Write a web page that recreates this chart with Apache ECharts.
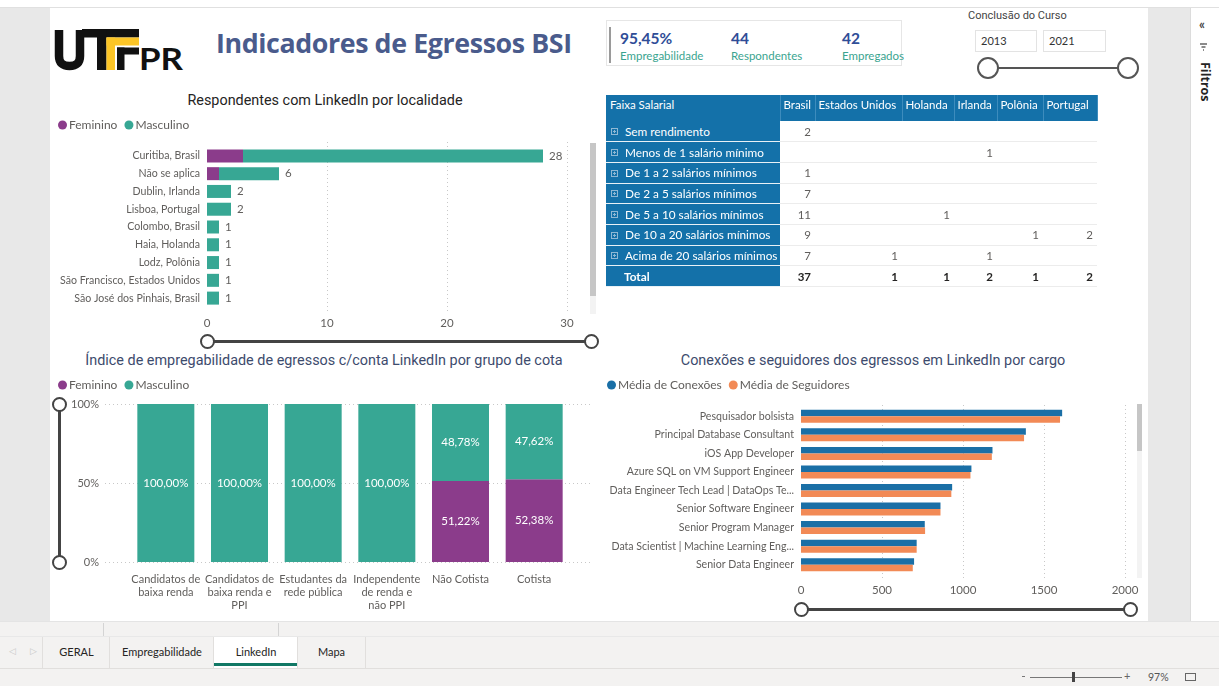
<!DOCTYPE html>
<html><head><meta charset="utf-8">
<script src="https://cdn.jsdelivr.net/npm/echarts@6/dist/echarts.min.js"></script>
<style>
body{margin:0;width:1219px;height:686px;overflow:hidden;background:#e8e8e8;font-family:Lato,'Noto Sans',sans-serif;position:relative}
.a{position:absolute}
.ttl{position:absolute;width:700px;text-align:center;font-family:Roboto,sans-serif;font-size:14.4px;white-space:nowrap}
.tab{position:absolute;top:637px;height:31px;line-height:30px;text-align:center;font-size:11px;color:#252423;border-left:1px solid #e1dfdd;box-sizing:border-box}
.knob{position:absolute;background:#fff;border:2px solid #444;border-radius:50%;box-sizing:border-box}
#tbl{position:absolute;left:606px;top:95px;border-collapse:collapse;font-family:Lato,sans-serif;z-index:3;table-layout:fixed;width:491px}
#tbl td,#tbl th{padding:0 4px;white-space:nowrap;box-sizing:border-box;overflow:hidden}
#tbl th{background:#1471a9;color:#fff;font-weight:normal;font-size:11.5px;height:26px;vertical-align:top;padding-top:3px;text-align:left;border-right:1px solid #3d8cbd}
#tbl td.rh{background:#1471a9;color:#fff;font-size:11.8px;border-bottom:1px solid #e9f1f6}
#tbl td.v{text-align:right;color:#605e5c;font-size:11.5px;border-bottom:1px solid #ececec;background:#fff}
#tbl tr{height:20.7px}
#tbl tr.tot td{font-weight:bold;color:#252423}
#tbl tr.tot td.rh{color:#fff;padding-left:18px}
.ex{display:inline-block;width:7px;height:7px;border:1px solid #8fb8d4;margin:0 7px 0 1px;vertical-align:middle;position:relative;top:-1px;box-sizing:border-box}
.ex:after{content:'';position:absolute;left:1px;top:2px;width:3px;height:1px;background:#8fb8d4}
.ex:before{content:'';position:absolute;left:2px;top:1px;width:1px;height:3px;background:#8fb8d4}
</style></head><body>
<div class="a" style="left:0;top:0;width:1219px;height:7px;background:#fff;border-bottom:1px solid #e0e0e0"></div>
<div class="a" style="left:50px;top:8px;width:1098px;height:613px;background:#fff"></div>
<div class="a" style="left:1190px;top:8px;width:29px;height:613px;background:#fff;border-left:1px solid #dcdcdc"></div>
<div class="a" style="left:1199px;top:16px;font-size:13px;color:#444;font-weight:bold">«</div>
<svg class="a" style="left:1199px;top:42px" width="10" height="10"><path d="M1 2h7M2.5 5h4M4 8h1" stroke="#666" stroke-width="1.3"/></svg>
<div class="a" style="left:1197px;top:62px;writing-mode:vertical-rl;font-size:12.5px;font-weight:bold;color:#252423;font-family:'Open Sans',sans-serif">Filtros</div>

<!-- logo -->
<svg class="a" style="left:52px;top:26px" width="136" height="48">
<path d="M7 4 V30 Q7 40 17.5 40 Q28 40 28 30 V4" fill="none" stroke="#111" stroke-width="8.5"/>
<rect x="30" y="3" width="57" height="8.5" fill="#111"/>
<rect x="45" y="3" width="9.5" height="41" fill="#111"/>
<rect x="54.5" y="11.5" width="8.5" height="32.5" fill="#fcc526"/>
<rect x="54.5" y="11.5" width="32.5" height="8" fill="#fcc526"/>
<rect x="65" y="21.5" width="7.5" height="22.5" fill="#111"/>
<rect x="65" y="21.5" width="22" height="7" fill="#111"/>
<text x="87" y="44" font-family="Lato,sans-serif" font-weight="bold" font-size="31" fill="#111" textLength="44" lengthAdjust="spacingAndGlyphs">PR</text>
</svg>
<div class="a" style="left:216px;top:24px;font-size:26.8px;font-weight:bold;color:#4a5b8c;font-family:'Open Sans',sans-serif;letter-spacing:-0.4px;white-space:nowrap">Indicadores de Egressos BSI</div>

<!-- KPI -->
<div class="a" style="left:606px;top:20px;width:296px;height:46px;border:1px solid #e6e6e6;box-sizing:border-box"></div>
<div class="a" style="left:609px;top:27px;width:2px;height:36px;background:#9a9a9a"></div>
<div id="kpi"></div>

<!-- slicer -->
<div class="a" style="left:968px;top:9px;font-family:Roboto,sans-serif;font-size:11px;color:#444">Conclusão do Curso</div>
<div class="a" style="left:975px;top:30px;width:62px;height:22px;border:1px solid #e3e3e3;box-sizing:border-box;font-size:11px;line-height:20px;padding-left:5px;color:#333">2013</div>
<div class="a" style="left:1043px;top:30px;width:63px;height:22px;border:1px solid #e3e3e3;box-sizing:border-box;font-size:11px;line-height:20px;padding-left:5px;color:#333">2021</div>
<div class="a" style="left:988px;top:67px;width:140px;height:2px;background:#555"></div>
<div class="knob" style="left:977px;top:57px;width:22px;height:22px;border-color:#555"></div>
<div class="knob" style="left:1117px;top:57px;width:22px;height:22px;border-color:#555"></div>

<!-- titles -->
<div class="ttl" style="left:-25px;top:92px;color:#252423">Respondentes com LinkedIn por localidade</div>
<div class="ttl" style="left:-26px;top:352px;color:#3d4b6d">Índice de empregabilidade de egressos c/conta LinkedIn por grupo de cota</div>
<div class="ttl" style="left:523px;top:352px;color:#3d4b6d">Conexões e seguidores dos egressos em LinkedIn por cargo</div>

<!-- scrollbars -->
<div class="a" style="left:590px;top:143px;width:6px;height:171px;background:#f3f3f3"></div>
<div class="a" style="left:590px;top:143px;width:6px;height:153px;background:#c6c6c6"></div>
<div class="a" style="left:1137px;top:404px;width:5px;height:174px;background:#f3f3f3"></div>
<div class="a" style="left:1137px;top:404px;width:5px;height:47px;background:#c6c6c6"></div>

<!-- sliders -->
<div class="a" style="left:207px;top:340px;width:384px;height:3px;background:#444"></div>
<div class="knob" style="left:200px;top:334px;width:15px;height:15px"></div>
<div class="knob" style="left:584px;top:334px;width:15px;height:15px"></div>
<div class="a" style="left:58px;top:404px;width:3px;height:158px;background:#444"></div>
<div class="knob" style="left:52px;top:397px;width:15px;height:15px"></div>
<div class="knob" style="left:52px;top:555px;width:15px;height:15px"></div>
<div class="a" style="left:801px;top:608px;width:330px;height:3px;background:#444"></div>
<div class="knob" style="left:794px;top:602px;width:15px;height:15px"></div>
<div class="knob" style="left:1123px;top:602px;width:15px;height:15px"></div>

<!-- tab bar -->
<div class="a" style="left:0;top:621px;width:1219px;height:47px;background:#f3f2f1;border-top:1px solid #e4e4e4"></div>
<div class="a" style="left:103px;top:623px;width:1px;height:13px;background:#d4d4d4"></div>
<div class="a" style="left:278px;top:623px;width:1px;height:13px;background:#d4d4d4"></div>
<div class="a" style="left:0;top:636px;width:1219px;height:1px;background:#e8e8e8"></div>
<div class="a" style="left:9px;top:645px;font-size:9px;color:#c8c8c8">&#9665;</div>
<div class="a" style="left:30px;top:645px;font-size:9px;color:#c8c8c8">&#9655;</div>
<div id="tabs"></div>
<div class="a" style="left:0;top:668px;width:1219px;height:18px;background:#f3f2f1;border-top:1px solid #e1dfdd"></div>
<div class="a" style="left:1022px;top:676px;width:3px;height:1px;background:#777"></div>
<div class="a" style="left:1030px;top:677px;width:92px;height:1px;background:#777"></div>
<div class="a" style="left:1072px;top:672px;width:3px;height:10px;background:#444"></div>
<div class="a" style="left:1124px;top:669px;font-size:11px;color:#666">+</div>
<div class="a" style="left:1148px;top:671px;font-size:10.5px;color:#555">97%</div>
<div class="a" style="left:1185px;top:673px;width:11px;height:8px;border:1px solid #666;box-sizing:border-box"></div>

<div id="c" class="a" style="left:0;top:0;width:1219px;height:686px;z-index:2;pointer-events:none"></div>
<table id="tbl"></table>

<script>
// ---------- data ----------
const locCategories = ['Curitiba, Brasil','Não se aplica','Dublin, Irlanda','Lisboa, Portugal','Colombo, Brasil','Haia, Holanda','Lodz, Polônia','São Francisco, Estados Unidos','São José dos Pinhais, Brasil'];
const locFeminino  = [3, 1, 0, 0, 0, 0, 0, 0, 0];
const locMasculino = [25, 5, 2, 2, 1, 1, 1, 1, 1];
const locTicks = [0, 10, 20, 30];

const cotaCategories = ['Candidatos de\nbaixa renda','Candidatos de\nbaixa renda e\nPPI','Estudantes da\nrede pública','Independente\nde renda e\nnão PPI','Não Cotista','Cotista'];
const cotaFeminino  = [0, 0, 0, 0, 51.22, 52.38];
const cotaMasculino = [100, 100, 100, 100, 48.78, 47.62];
const cotaTicks = ['0%', '50%', '100%'];

const cargoCategories = ['Pesquisador bolsista','Principal Database Consultant','iOS App Developer','Azure SQL on VM Support Engineer','Data Engineer Tech Lead | DataOps Te...','Senior Software Engineer','Senior Program Manager','Data Scientist | Machine Learning Eng...','Senior Data Engineer'];
const mediaConexoes   = [1612, 1388, 1182, 1052, 933, 861, 764, 714, 698];
const mediaSeguidores = [1599, 1377, 1178, 1046, 928, 861, 766, 714, 690];
const cargoTicks = [0, 500, 1000, 1500, 2000];

const faixaSalarial = ['Sem rendimento','Menos de 1 salário mínimo','De 1 a 2 salários mínimos','De 2 a 5 salários mínimos','De 5 a 10 salários mínimos','De 10 a 20 salários mínimos','Acima de 20 salários mínimos'];
const paises = ['Brasil','Estados Unidos','Holanda','Irlanda','Polônia','Portugal'];
const salarioPorPais = [
  [2, null, null, null, null, null],
  [null, null, null, 1, null, null],
  [1, null, null, null, null, null],
  [7, null, null, null, null, null],
  [11, null, 1, null, null, null],
  [9, null, null, null, 1, 2],
  [7, 1, null, 1, null, null]
];

const kpiValues = ['95,45%', '44', '42'];
const kpiLabels = ['Empregabilidade', 'Respondentes', 'Empregados'];
const tabNames = ['GERAL', 'Empregabilidade', 'LinkedIn', 'Mapa'];

// ---------- KPI & tabs ----------
const kpiX = [620, 731, 842];
document.getElementById('kpi').innerHTML = kpiValues.map((v,i)=>
  `<div class="a" style="left:${kpiX[i]}px;top:29px;font-size:15.5px;font-weight:bold;color:#2f4d97">${v}</div>`+
  `<div class="a" style="left:${kpiX[i]}px;top:48.5px;font-size:11.5px;color:#3aa48f">${kpiLabels[i]}</div>`).join('');
const tabX = [42, 109, 213, 297, 365];
document.getElementById('tabs').innerHTML = tabNames.map((t,i)=>{
  const act = t==='LinkedIn';
  return `<div class="tab" style="left:${tabX[i]}px;width:${tabX[i+1]-tabX[i]+1}px;${act?'background:#fff;':''}${i===tabNames.length-1?'border-right:1px solid #e1dfdd;':''}">${t}${act?'<div class="a" style="left:0;bottom:2px;width:100%;height:3px;background:#117865"></div>':''}</div>`;
}).join('');

// ---------- table ----------
const colW = [174, 35, 87, 52, 43, 46, 54];
let html = '<colgroup>' + colW.map(w=>`<col style="width:${w}px">`).join('') + '</colgroup>';
html += '<tr>' + ['Faixa Salarial'].concat(paises).map((h,i)=>`<th style="${i>0?'padding:3px 2px 0 3px;':''}">${h}</th>`).join('') + '</tr>';
faixaSalarial.forEach((f,r)=>{
  html += `<tr><td class="rh"><span class="ex"></span>${f}</td>` + salarioPorPais[r].map(v=>`<td class="v">${v==null?'':v}</td>`).join('') + '</tr>';
});
const totals = paises.map((p,c)=>salarioPorPais.reduce((s,row)=>s+(row[c]||0),0));
html += `<tr class="tot"><td class="rh">Total</td>` + totals.map(v=>`<td class="v">${v}</td>`).join('') + '</tr>';
document.getElementById('tbl').innerHTML = html;

// ---------- charts ----------
const FONT = 'Lato, "Noto Sans", sans-serif';
const GRAY = '#605e5c';
const dotted = {show:true, lineStyle:{type:[1,3], color:'#c8c8c8', width:1}};
const pct = v => v.toFixed(2).replace('.', ',') + '%';
const locTotals = locCategories.map((c,i)=>locFeminino[i]+locMasculino[i]);
const legendText = {color:GRAY, fontSize:12, fontFamily:FONT, padding:[0,0,0,-3]};

const chart = echarts.init(document.getElementById('c'));
chart.setOption({
  animation:false,
  textStyle:{fontFamily:FONT},
  legend:[
    {left:53, top:114, icon:'circle', itemWidth:9, itemHeight:9, itemGap:7, selectedMode:false,
     textStyle:legendText, data:['Feminino','Masculino']},
    {left:53, top:374, icon:'circle', itemWidth:9, itemHeight:9, itemGap:7, selectedMode:false,
     textStyle:legendText, data:['Feminino','Masculino']},
    {left:602, top:374, icon:'circle', itemWidth:9, itemHeight:9, itemGap:7, selectedMode:false,
     textStyle:legendText, data:['Média de Conexões','Média de Seguidores']}
  ],
  grid:[
    {left:207, top:147, width:360, height:160},   // 0 localidade bars
    {left:129, top:404, width:442, height:158},   // 1 cota bars
    {left:105, top:404, width:485, height:158},   // 2 cota gridlines
    {left:801, top:407, width:324, height:167},   // 3 cargo bars
    {left:207, top:142, width:360, height:172},   // 4 localidade gridlines
    {left:801, top:405, width:324, height:173}    // 5 cargo gridlines
  ],
  xAxis:[
    {gridIndex:0, type:'value', min:0, max:30, show:false},
    {gridIndex:1, type:'category', data:cotaCategories, axisLine:{show:false}, axisTick:{show:false},
     axisLabel:{interval:0, color:GRAY, fontSize:11, lineHeight:13, margin:11, fontFamily:FONT}},
    {gridIndex:2, type:'value', min:0, max:1, show:false},
    {gridIndex:3, type:'value', min:0, max:2000, show:false},
    {gridIndex:4, type:'value', min:locTicks[0], max:locTicks[locTicks.length-1], interval:10,
     axisLine:{show:false}, axisTick:{show:false}, splitLine:Object.assign({showMinLine:false}, dotted),
     axisLabel:{color:GRAY, fontSize:11.5, margin:3, fontFamily:FONT, formatter:(v)=>String(v)}},
    {gridIndex:5, type:'value', min:cargoTicks[0], max:cargoTicks[cargoTicks.length-1], interval:500,
     axisLine:{show:false}, axisTick:{show:false}, splitLine:Object.assign({showMinLine:false}, dotted),
     axisLabel:{color:GRAY, fontSize:11.5, margin:6, fontFamily:FONT, formatter:(v)=>String(v)}}
  ],
  yAxis:[
    {gridIndex:0, type:'category', data:locCategories, inverse:true, axisLine:{show:false}, axisTick:{show:false},
     axisLabel:{color:GRAY, fontSize:10.6, margin:7, fontFamily:FONT}},
    {gridIndex:1, type:'value', min:0, max:100, show:false},
    {gridIndex:2, type:'value', min:0, max:100, interval:50, axisLine:{show:false}, axisTick:{show:false},
     splitLine:dotted, axisLabel:{color:GRAY, fontSize:11, margin:6, fontFamily:FONT,
       formatter:(v)=>cotaTicks[v/50]}},
    {gridIndex:3, type:'category', data:cargoCategories, inverse:true, axisLine:{show:false}, axisTick:{show:false},
     axisLabel:{color:GRAY, fontSize:10.6, margin:7, fontFamily:FONT}},
    {gridIndex:4, type:'value', min:0, max:1, show:false},
    {gridIndex:5, type:'value', min:0, max:1, show:false}
  ],
  series:[
    {name:'Feminino', type:'bar', xAxisIndex:0, yAxisIndex:0, stack:'loc', barWidth:13, data:locFeminino,
     itemStyle:{color:'#8b3c8b'}},
    {name:'Masculino', type:'bar', xAxisIndex:0, yAxisIndex:0, stack:'loc', barWidth:13, data:locMasculino,
     itemStyle:{color:'#37a794'},
     label:{show:true, position:'right', distance:6, color:GRAY, fontSize:11.5, fontFamily:FONT,
       formatter:(p)=>locTotals[p.dataIndex]}},
    {name:'Feminino', type:'bar', xAxisIndex:1, yAxisIndex:1, stack:'cota', barWidth:57, data:cotaFeminino,
     itemStyle:{color:'#8b3c8b'},
     label:{show:true, position:'inside', color:'#fff', fontSize:11.5, fontFamily:FONT,
       formatter:(p)=>p.value>0?pct(p.value):''}},
    {name:'Masculino', type:'bar', xAxisIndex:1, yAxisIndex:1, stack:'cota', barWidth:57, data:cotaMasculino,
     itemStyle:{color:'#37a794'},
     label:{show:true, position:'inside', color:'#fff', fontSize:11.5, fontFamily:FONT,
       formatter:(p)=>p.value>0?pct(p.value):''}},
    {name:'Média de Conexões', type:'bar', xAxisIndex:3, yAxisIndex:3, barWidth:6.5, barGap:'0%', data:mediaConexoes,
     itemStyle:{color:'#1a6fa6'}},
    {name:'Média de Seguidores', type:'bar', xAxisIndex:3, yAxisIndex:3, barWidth:6.5, barGap:'0%', data:mediaSeguidores,
     itemStyle:{color:'#f28a56'}}
  ]
});
</script>
</body></html>
